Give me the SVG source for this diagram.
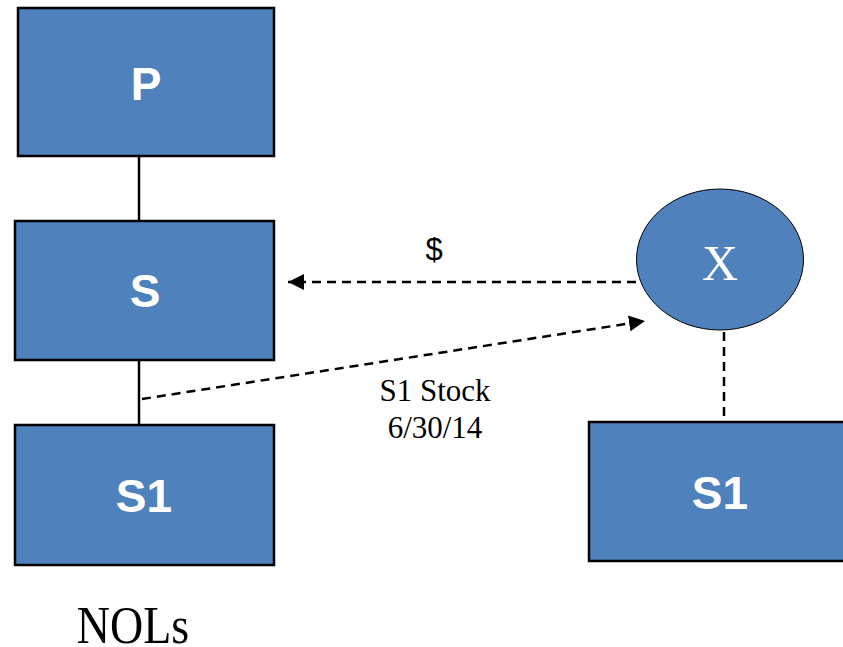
<svg xmlns="http://www.w3.org/2000/svg" width="843" height="647" viewBox="0 0 843 647">
<style>
.box{fill:#4F81BD;stroke:#000;stroke-width:2.5}
.ell{fill:#4F81BD;stroke:#000;stroke-width:1}
.lbl{font-family:"Liberation Sans",Arial,sans-serif;font-weight:bold;font-size:46px;fill:#fff;text-anchor:middle}
.serif{font-family:"Liberation Serif","Times New Roman",serif;fill:#000;text-anchor:middle}
.solid{stroke:#000;stroke-width:2.5;fill:none}
.dash{stroke:#000;stroke-width:2.5;fill:none;stroke-dasharray:9 6}
</style>
<defs>
<marker id="arr" markerUnits="userSpaceOnUse" markerWidth="18" markerHeight="18" viewBox="0 0 18 18" refX="16" refY="9" orient="auto">
<path d="M0,1 L16,9 L0,17 Z" fill="#000"/>
</marker>
</defs>
<g id="connectors">
<line class="solid" x1="139" y1="156" x2="139" y2="221"/>
<line class="solid" x1="139" y1="360" x2="139" y2="425"/>
<line class="dash" x1="636" y1="282" x2="288" y2="282" marker-end="url(#arr)"/>
<line class="dash" x1="142" y1="399" x2="645" y2="321" marker-end="url(#arr)"/>
<line class="dash" x1="724" y1="332" x2="724" y2="421"/>
</g>
<g id="node-P">
<rect class="box" x="18" y="8" width="256" height="148"/>
<text class="lbl" x="146" y="100">P</text>
</g>
<g id="node-S">
<rect class="box" x="15" y="221" width="259" height="139"/>
<text class="lbl" x="145" y="307">S</text>
</g>
<g id="node-S1-left">
<rect class="box" x="15" y="425" width="259" height="140"/>
<text class="lbl" x="144" y="512">S1</text>
</g>
<g id="node-X">
<ellipse class="ell" cx="720" cy="259.5" rx="83.5" ry="70.5"/>
<text class="serif" x="720" y="280" style="fill:#fff;font-size:50px">X</text>
</g>
<g id="node-S1-right">
<rect class="box" x="589" y="422" width="262" height="139"/>
<text class="lbl" x="720" y="509">S1</text>
</g>
<g id="labels">
<text x="434" y="260" style="font-family:'Liberation Sans',Arial,sans-serif;font-size:31px;text-anchor:middle">$</text>
<text class="serif" x="435" y="401" style="font-size:31px">S1 Stock</text>
<text class="serif" x="435" y="438" style="font-size:31px">6/30/14</text>
<text class="serif" transform="translate(133,643) scale(1,1.13)" style="font-size:46px">NOLs</text>
</g>
</svg>
